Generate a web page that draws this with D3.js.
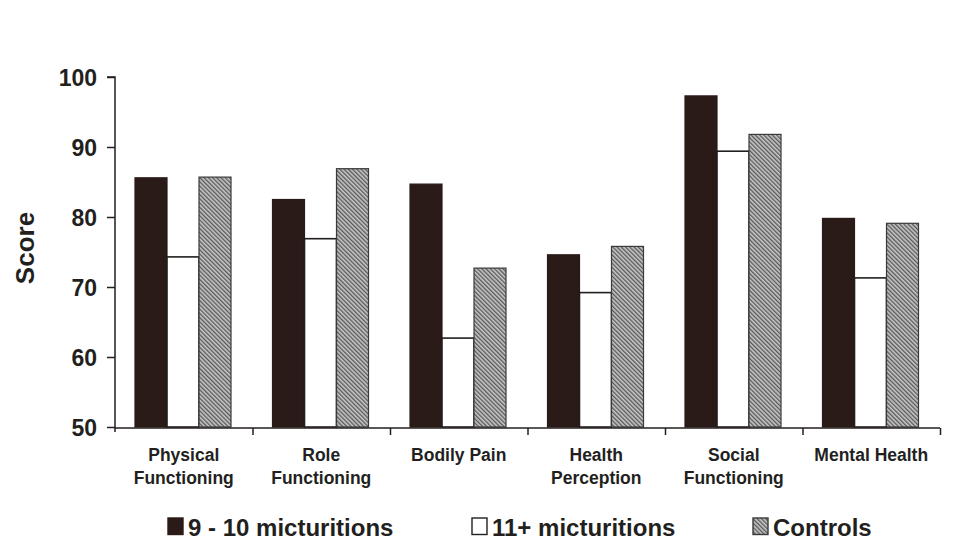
<!DOCTYPE html>
<html><head><meta charset="utf-8">
<script src="https://cdn.jsdelivr.net/npm/d3@7"></script>
<style>body{margin:0;background:#fff}svg{display:block}text{font-family:"Liberation Sans",Arial,sans-serif;fill:#231f1e}</style>
</head><body>
<svg id="c" width="972" height="554"></svg>
<script>
const categories = [["Physical","Functioning"],["Role","Functioning"],["Bodily Pain"],["Health","Perception"],["Social","Functioning"],["Mental Health"]];
const seriesNames = ["9 - 10 micturitions","11+ micturitions","Controls"];
const s910 = [85.6, 82.5, 84.7, 74.6, 97.3, 79.8];
const s11 = [74.3, 76.9, 62.7, 69.2, 89.4, 71.3];
const controls = [85.7, 86.9, 72.7, 75.8, 91.8, 79.1];
const yTicks = [50, 60, 70, 80, 90, 100];

(function(){
const svg = d3.select("#c");
const defs = svg.append("defs");
const pat = defs.append("pattern").attr("id","hatch").attr("patternUnits","userSpaceOnUse")
  .attr("width",3).attr("height",3).attr("patternTransform","rotate(-45)");
pat.append("rect").attr("width",3).attr("height",3).attr("fill","#c8c8c8");
pat.append("line").attr("x1",0.7).attr("y1",0).attr("x2",0.7).attr("y2",3).attr("stroke","#4a4a4a").attr("stroke-width",1.2);

const pLeft = 115, pRight = 940, pTop = 77, pBottom = 427;
const catIdx = categories.map((d,i)=>i);
const x0 = d3.scaleBand().domain(catIdx).range([pLeft, pRight]).padding(0);
const x1 = d3.scaleBand().domain([0,1,2]).range([20, 116]).padding(0);
const y = d3.scaleLinear().domain([50, 100]).range([pBottom, pTop]);

const fills = ["#2a1a18", "#ffffff", "url(#hatch)"];
const strokes = ["#2a1a18", "#231f1e", "#3a3a3a"];
const data = [s910, s11, controls];

catIdx.forEach(ci => {
  data.forEach((arr, si) => {
    const v = arr[ci];
    svg.append("rect")
      .attr("x", x0(ci) + x1(si))
      .attr("y", y(v))
      .attr("width", x1.bandwidth())
      .attr("height", y(50) - y(v))
      .attr("fill", fills[si])
      .attr("stroke", strokes[si])
      .attr("stroke-width", si===1 ? 1.6 : 1.2);
  });
});

const yAxis = d3.axisLeft(y).tickValues(yTicks).tickSize(8).tickPadding(10).tickFormat(d3.format("d"));
const gy = svg.append("g").attr("transform", `translate(${pLeft},0)`).call(yAxis);
gy.select(".domain").attr("stroke","#231f1e").attr("stroke-width",1.5).attr("d",`M-8,${pTop}H0V${pBottom+5}`);
gy.selectAll(".tick line").attr("stroke","#231f1e").attr("stroke-width",1.5);
gy.selectAll(".tick text").attr("font-size",23).attr("font-weight","bold").attr("fill","#231f1e").attr("dy","0.35em").style("font-family","'Liberation Sans',Arial,sans-serif");

const xb = d3.scaleLinear().domain([0, categories.length]).range([pLeft, pRight]);
const gx = svg.append("g").attr("transform", `translate(0,${pBottom+1})`)
  .call(d3.axisBottom(xb).tickValues(d3.range(1, categories.length+1)).tickSize(7).tickFormat(""));
gx.select(".domain").attr("stroke","#231f1e").attr("stroke-width",1.5).attr("d",`M${pLeft},0H${pRight}`);
gx.selectAll(".tick line").attr("stroke","#231f1e").attr("stroke-width",1.5);

catIdx.forEach(ci => {
  const cx = x0(ci) + x0.bandwidth()/2;
  const lines = categories[ci];
  const t = svg.append("text").attr("x", cx).attr("y", 461).attr("text-anchor","middle")
    .attr("font-size",17.5).attr("font-weight","bold");
  lines.forEach((l,li) => t.append("tspan").attr("x",cx).attr("dy", li===0?0:23).text(l));
});

svg.append("text").attr("transform","translate(34,248) rotate(-90)").attr("text-anchor","middle")
  .attr("font-size",26).attr("font-weight","bold").text("Score");

const legX = [168, 472, 753];
seriesNames.forEach((n, si) => {
  svg.append("rect").attr("x", legX[si]).attr("y", 518).attr("width", 15).attr("height", 16.5)
    .attr("fill", fills[si]).attr("stroke", strokes[si]).attr("stroke-width", 1.4);
  svg.append("text").attr("x", legX[si] + 20).attr("y", 536).attr("font-size", 24)
    .attr("font-weight","bold").text(n);
});
})();
</script>
</body></html>
